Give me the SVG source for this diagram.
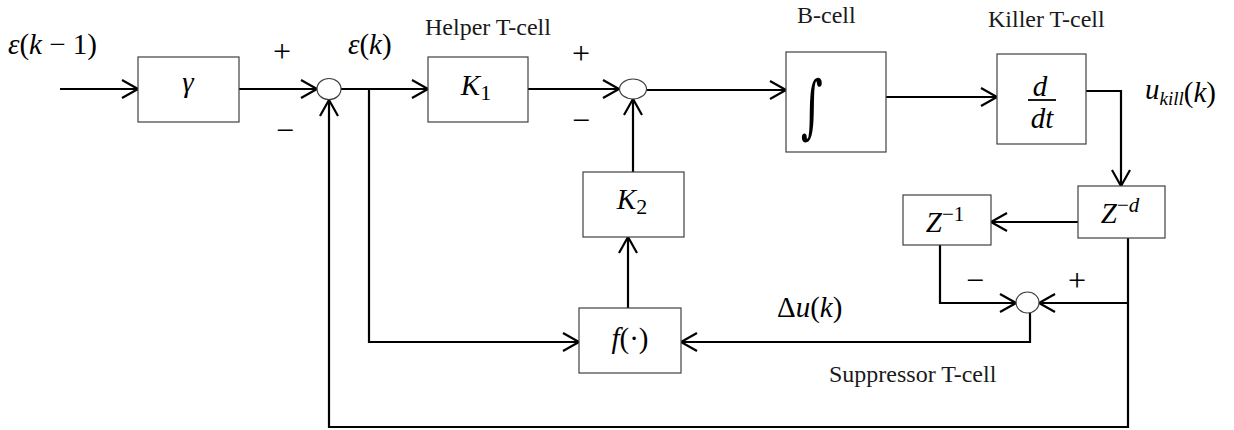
<svg xmlns="http://www.w3.org/2000/svg" width="1234" height="430" viewBox="0 0 1234 430">
<defs>
<marker id="arr" markerUnits="userSpaceOnUse" markerWidth="20" markerHeight="22" viewBox="0 0 20 22" refX="17" refY="10" orient="auto" overflow="visible">
<path d="M1,1 L17,10 L1,19" fill="none" stroke="#000" stroke-width="2.2"/>
</marker>
</defs>
<style>
.box{fill:#fff;stroke:#404040;stroke-width:1.2}
.sum{fill:#fff;stroke:#404040;stroke-width:1.2}
.ln{fill:none;stroke:#000;stroke-width:2.2}
.a{marker-end:url(#arr)}
.lab{font-family:"Liberation Serif","Times New Roman",serif;font-size:24px;fill:#1a1a1a}
.m{font-family:"Liberation Serif","Times New Roman",serif;font-size:29px;fill:#000}
.i{font-style:italic}
.sg{font-family:"Liberation Serif","Times New Roman",serif;font-size:32px;fill:#000;text-anchor:middle}
</style>
<rect width="1234" height="430" fill="#fff"/>

<g id="connectors">
<path class="ln a" d="M60,89 H138"/>
<path class="ln a" d="M239,89 H317"/>
<path class="ln a" d="M341,89 H428"/>
<path class="ln a" d="M528,89 H619"/>
<path class="ln a" d="M647,90 H786"/>
<path class="ln a" d="M886,97 H997"/>
<path class="ln a" d="M1086,91 H1121 V186"/>
<path class="ln a" d="M1078,222 H991"/>
<path class="ln a" d="M940,245 V303 H1016"/>
<path class="ln a" d="M1128,303 H1039"/>
<path class="ln a" d="M1030,313 V342 H681"/>
<path class="ln a" d="M369,89 V342 H579"/>
<path class="ln a" d="M628,308 V237"/>
<path class="ln a" d="M633,172 V99"/>
<path class="ln a" d="M1128,238 V427 H329 V100"/>
</g>

<g id="sum1"><ellipse class="sum" cx="329" cy="89" rx="12" ry="10.5"/></g>
<g id="sum2"><ellipse class="sum" cx="633" cy="89" rx="13.5" ry="10"/></g>
<g id="sum3"><ellipse class="sum" cx="1027.5" cy="302.5" rx="11.5" ry="10.5"/></g>

<g id="gamma">
<rect class="box" x="138" y="57" width="101" height="65"/>
<text class="m i" x="188" y="92" text-anchor="middle">γ</text>
</g>
<g id="k1">
<rect class="box" x="428" y="57" width="100" height="65"/>
<text class="m" x="476" y="95" text-anchor="middle"><tspan class="i">K</tspan><tspan font-size="22" dy="5">1</tspan></text>
</g>
<g id="bcell">
<rect class="box" x="786" y="52" width="100" height="100"/>
<text x="812" y="127" font-family="'DejaVu Serif',serif" font-size="60" text-anchor="middle" transform="translate(812 107) scale(0.7 1.15) translate(-812 -107)">∫</text>
</g>
<g id="killer">
<rect class="box" x="997" y="54" width="89" height="90"/>
<text class="m i" x="1040" y="96" text-anchor="middle">d</text>
<line x1="1028" y1="100" x2="1056" y2="100" stroke="#000" stroke-width="1.8"/>
<text class="m i" x="1042" y="128" text-anchor="middle">dt</text>
</g>
<g id="k2">
<rect class="box" x="583" y="172" width="101" height="65"/>
<text class="m" x="632" y="209" text-anchor="middle"><tspan class="i">K</tspan><tspan font-size="22" dy="5">2</tspan></text>
</g>
<g id="f">
<rect class="box" x="579" y="308" width="102" height="65"/>
<text class="m" x="630" y="348" text-anchor="middle"><tspan class="i">f</tspan>(·)</text>
</g>
<g id="zinv">
<rect class="box" x="903" y="195" width="88" height="50"/>
<text class="m" x="945" y="232" text-anchor="middle"><tspan class="i">Z</tspan><tspan font-size="21" dy="-11">−1</tspan></text>
</g>
<g id="zd">
<rect class="box" x="1078" y="186" width="87" height="52"/>
<text class="m" x="1120" y="223" text-anchor="middle"><tspan class="i">Z</tspan><tspan font-size="21" dy="-11">−</tspan><tspan font-size="21" class="i">d</tspan></text>
</g>

<g id="labels">
<text class="m" x="8" y="54"><tspan class="i">ε</tspan>(<tspan class="i">k</tspan> − 1)</text>
<text class="m" x="348" y="54"><tspan class="i">ε</tspan>(<tspan class="i">k</tspan>)</text>
<text class="m" x="1145" y="99"><tspan class="i">u</tspan><tspan font-size="19" dy="6" class="i">kill</tspan><tspan dy="-3">(</tspan><tspan class="i">k</tspan>)</text>
<text class="m" x="777" y="317">Δ<tspan class="i">u</tspan>(<tspan class="i">k</tspan>)</text>
<text class="lab" x="425" y="35">Helper T-cell</text>
<text class="lab" x="797" y="23">B-cell</text>
<text class="lab" x="988" y="27">Killer T-cell</text>
<text class="lab" x="829" y="382">Suppressor T-cell</text>
<text class="sg" x="282" y="62">+</text>
<text class="sg" x="285" y="141">−</text>
<text class="sg" x="581" y="64">+</text>
<text class="sg" x="581" y="131">−</text>
<text class="sg" x="975" y="291">−</text>
<text class="sg" x="1077" y="291">+</text>
</g>
</svg>
